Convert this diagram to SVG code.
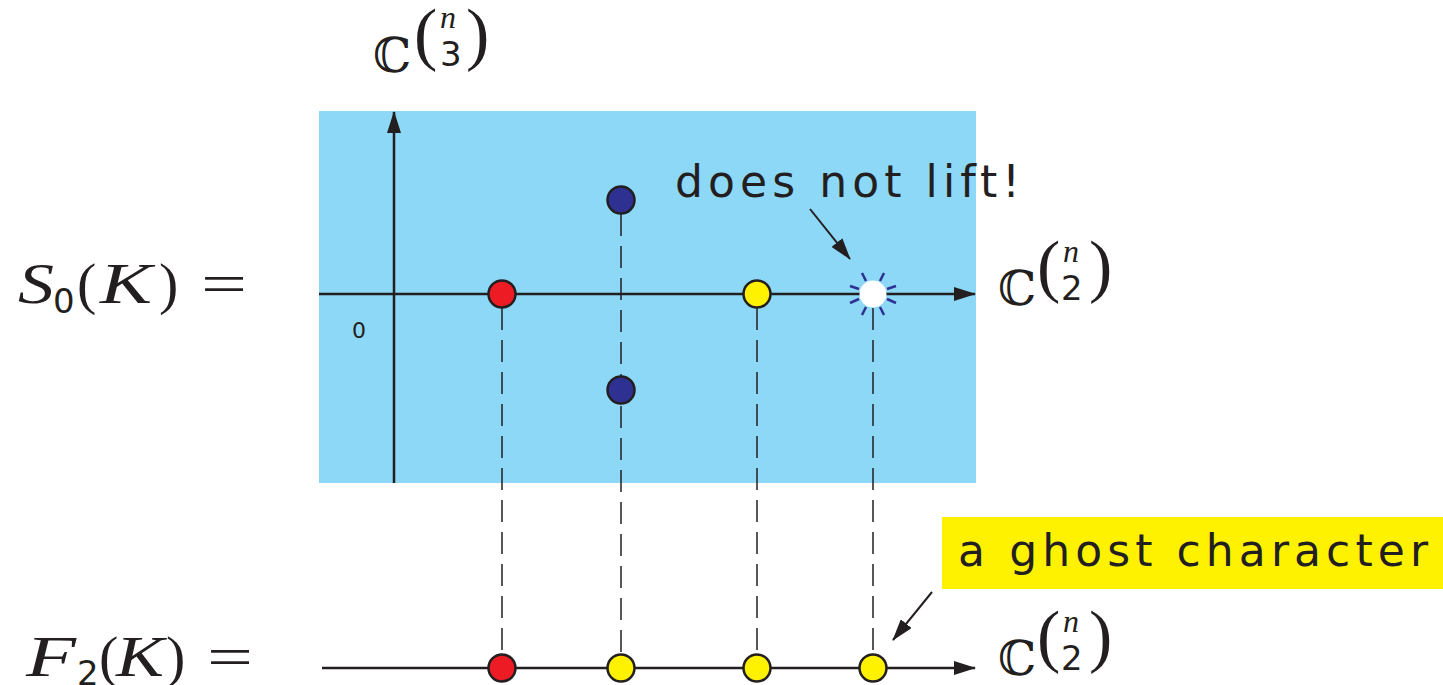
<svg xmlns="http://www.w3.org/2000/svg" width="1443" height="685" viewBox="0 0 1443 685">
<style>
.ax{stroke:#231f20;stroke-width:2.5;fill:none}
.dash{stroke:#231f20;stroke-width:1.5;stroke-dasharray:22,10;fill:none}
.dot{stroke:#231f20;stroke-width:2.5}
.math{font-family:"Liberation Serif","DejaVu Serif",serif;fill:#231f20}
.it{font-style:italic}
.sans{font-family:"DejaVu Sans","Liberation Sans",sans-serif;fill:#231f20}
.bb{font-family:"DejaVu Serif","Noto Sans",serif;fill:#231f20}
.par{font-family:"Liberation Serif",serif;fill:#231f20;font-size:70px}
.nn{font-family:"Liberation Serif",serif;font-style:italic;fill:#231f20;font-size:32px}
.kk{font-family:"DejaVu Sans",sans-serif;fill:#231f20;font-size:34px}
</style>
<defs>
<marker id="big" markerWidth="22" markerHeight="14" refX="21" refY="7" orient="auto" markerUnits="userSpaceOnUse" viewBox="0 0 22 14">
<path d="M0,0 L22,7 L0,14 Z" fill="#231f20"/>
</marker>
</defs>
<rect id="plane" x="319" y="111" width="657" height="372" fill="#8dd8f7"/>
<g id="connectors">
<line class="ax" x1="394" y1="483" x2="394" y2="112" marker-end="url(#big)"/>
<line class="ax" x1="319" y1="294" x2="975" y2="294" marker-end="url(#big)"/>
<line class="ax" x1="322" y1="668" x2="975" y2="668" marker-end="url(#big)"/>
<line class="dash" x1="502" y1="308" x2="502" y2="656"/>
<line class="dash" x1="621" y1="214" x2="621" y2="656"/>
<line class="dash" x1="757" y1="308" x2="757" y2="656"/>
<line class="dash" x1="873" y1="308" x2="873" y2="656"/>
<line x1="810" y1="209" x2="850" y2="259" stroke="#231f20" stroke-width="2" marker-end="url(#big)"/>
<line x1="932" y1="592" x2="893" y2="640" stroke="#231f20" stroke-width="2" marker-end="url(#big)"/>
</g>
<g id="n-red"><circle class="dot" cx="502" cy="294" r="13.5" fill="#ed1c24"/></g>
<g id="n-blue1"><circle class="dot" cx="621" cy="200" r="13.5" fill="#2e3192"/></g>
<g id="n-blue2"><circle class="dot" cx="621" cy="390" r="13.5" fill="#2e3192"/></g>
<g id="n-yellow"><circle class="dot" cx="757" cy="294" r="13.5" fill="#fff200"/></g>
<g id="n-white">
<g stroke="#2e3192" stroke-width="2.5">
<line x1="866" y1="281" x2="862" y2="273"/>
<line x1="880" y1="281" x2="884" y2="273"/>
<line x1="859" y1="289" x2="850" y2="286"/>
<line x1="887" y1="289" x2="896" y2="286"/>
<line x1="859" y1="299" x2="850" y2="303"/>
<line x1="887" y1="299" x2="896" y2="303"/>
<line x1="866" y1="307" x2="862" y2="315"/>
<line x1="880" y1="307" x2="884" y2="315"/>
</g>
<circle cx="873" cy="294" r="13.5" fill="#ffffff"/>
</g>
<g id="b-red"><circle class="dot" cx="502" cy="668" r="13.5" fill="#ed1c24"/></g>
<g id="b-y1"><circle class="dot" cx="621" cy="668" r="13.5" fill="#fff200"/></g>
<g id="b-y2"><circle class="dot" cx="757" cy="668" r="13.5" fill="#fff200"/></g>
<g id="b-y3"><circle class="dot" cx="873" cy="668" r="13.5" fill="#fff200"/></g>
<text class="sans" x="352" y="338" font-size="22">0</text>
<g id="lbl-s0">
<text class="math it" x="18" y="303" font-size="58" textLength="36" lengthAdjust="spacingAndGlyphs">S</text>
<text class="kk" x="53" y="313">0</text>
<text class="math" x="77" y="303" font-size="58">(</text>
<text class="math it" x="100" y="303" font-size="58" textLength="52" lengthAdjust="spacingAndGlyphs">K</text>
<text class="math" x="159" y="303" font-size="58">)</text>
<text class="math" x="201" y="303" font-size="58" textLength="46" lengthAdjust="spacingAndGlyphs">=</text>
</g>
<g id="lbl-f2">
<text class="math it" x="26" y="676" font-size="58" textLength="50" lengthAdjust="spacingAndGlyphs">F</text>
<text class="kk" x="77" y="685">2</text>
<text class="math" x="99" y="676" font-size="58">(</text>
<text class="math it" x="116" y="676" font-size="58" textLength="48" lengthAdjust="spacingAndGlyphs">K</text>
<text class="math" x="166" y="676" font-size="58">)</text>
<text class="math" x="207" y="676" font-size="58" textLength="46" lengthAdjust="spacingAndGlyphs">=</text>
</g>
<g id="lbl-c3">
<text class="bb" x="373" y="72" font-size="48">ℂ</text>
<text class="par" x="414" y="57">(</text>
<text class="nn" x="440" y="28">n</text>
<text class="kk" x="440" y="66">3</text>
<text class="par" x="466" y="57">)</text>
</g>
<g id="lbl-c2a">
<text class="bb" x="998" y="305" font-size="48">ℂ</text>
<text class="par" x="1037" y="289">(</text>
<text class="nn" x="1063" y="262">n</text>
<text class="kk" x="1061" y="300">2</text>
<text class="par" x="1089" y="289">)</text>
</g>
<g id="lbl-c2b">
<text class="bb" x="998" y="675" font-size="48">ℂ</text>
<text class="par" x="1037" y="659">(</text>
<text class="nn" x="1063" y="632">n</text>
<text class="kk" x="1061" y="670">2</text>
<text class="par" x="1089" y="659">)</text>
</g>
<g id="lbl-nolift"><text class="sans" x="675" y="197" font-size="44" textLength="345" lengthAdjust="spacing">does not lift!</text></g>
<g id="lbl-ghost">
<rect x="942" y="517" width="501" height="72" fill="#fff200"/>
<text class="sans" x="958" y="566" font-size="44" textLength="470" lengthAdjust="spacing">a ghost character</text>
</g>
</svg>
